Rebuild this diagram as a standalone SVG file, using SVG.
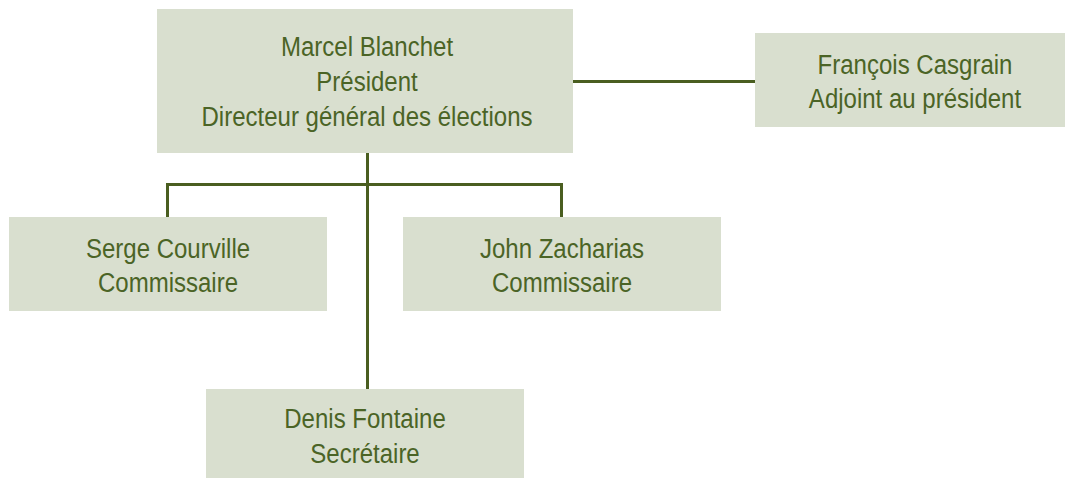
<svg xmlns="http://www.w3.org/2000/svg" width="1066" height="478" viewBox="0 0 1066 478">
<style>
.box{fill:#d9dfcf}
.t{font-family:"Liberation Sans",Arial,sans-serif;font-size:28px;fill:#4b6426;text-anchor:middle}
.c{stroke:#4a5e20;stroke-width:3;fill:none}
</style>
<rect width="1066" height="478" fill="#ffffff"/>
<g id="connectors">
<line class="c" x1="573" y1="81.5" x2="755" y2="81.5"/>
<line class="c" x1="367.5" y1="153" x2="367.5" y2="389"/>
<polyline class="c" points="167.5,217 167.5,184.5 561.5,184.5 561.5,217"/>
</g>
<g id="president">
<rect class="box" x="157" y="9" width="416" height="144"/>
<g transform="translate(367,0) scale(0.858,1)">
<text class="t" x="0" y="56">Marcel Blanchet</text>
<text class="t" x="0" y="91">Président</text>
<text class="t" x="0" y="126">Directeur général des élections</text>
</g>
</g>
<g id="adjoint">
<rect class="box" x="755" y="33" width="310" height="94"/>
<g transform="translate(915,0) scale(0.858,1)">
<text class="t" x="0" y="74">François Casgrain</text>
<text class="t" x="0" y="108">Adjoint au président</text>
</g>
</g>
<g id="courville">
<rect class="box" x="9" y="217" width="318" height="94"/>
<g transform="translate(168,0) scale(0.858,1)">
<text class="t" x="0" y="258">Serge Courville</text>
<text class="t" x="0" y="292">Commissaire</text>
</g>
</g>
<g id="zacharias">
<rect class="box" x="403" y="217" width="318" height="94"/>
<g transform="translate(562,0) scale(0.858,1)">
<text class="t" x="0" y="258">John Zacharias</text>
<text class="t" x="0" y="292">Commissaire</text>
</g>
</g>
<g id="fontaine">
<rect class="box" x="206" y="389" width="318" height="89"/>
<g transform="translate(365,0) scale(0.858,1)">
<text class="t" x="0" y="428">Denis Fontaine</text>
<text class="t" x="0" y="463">Secrétaire</text>
</g>
</g>
</svg>
